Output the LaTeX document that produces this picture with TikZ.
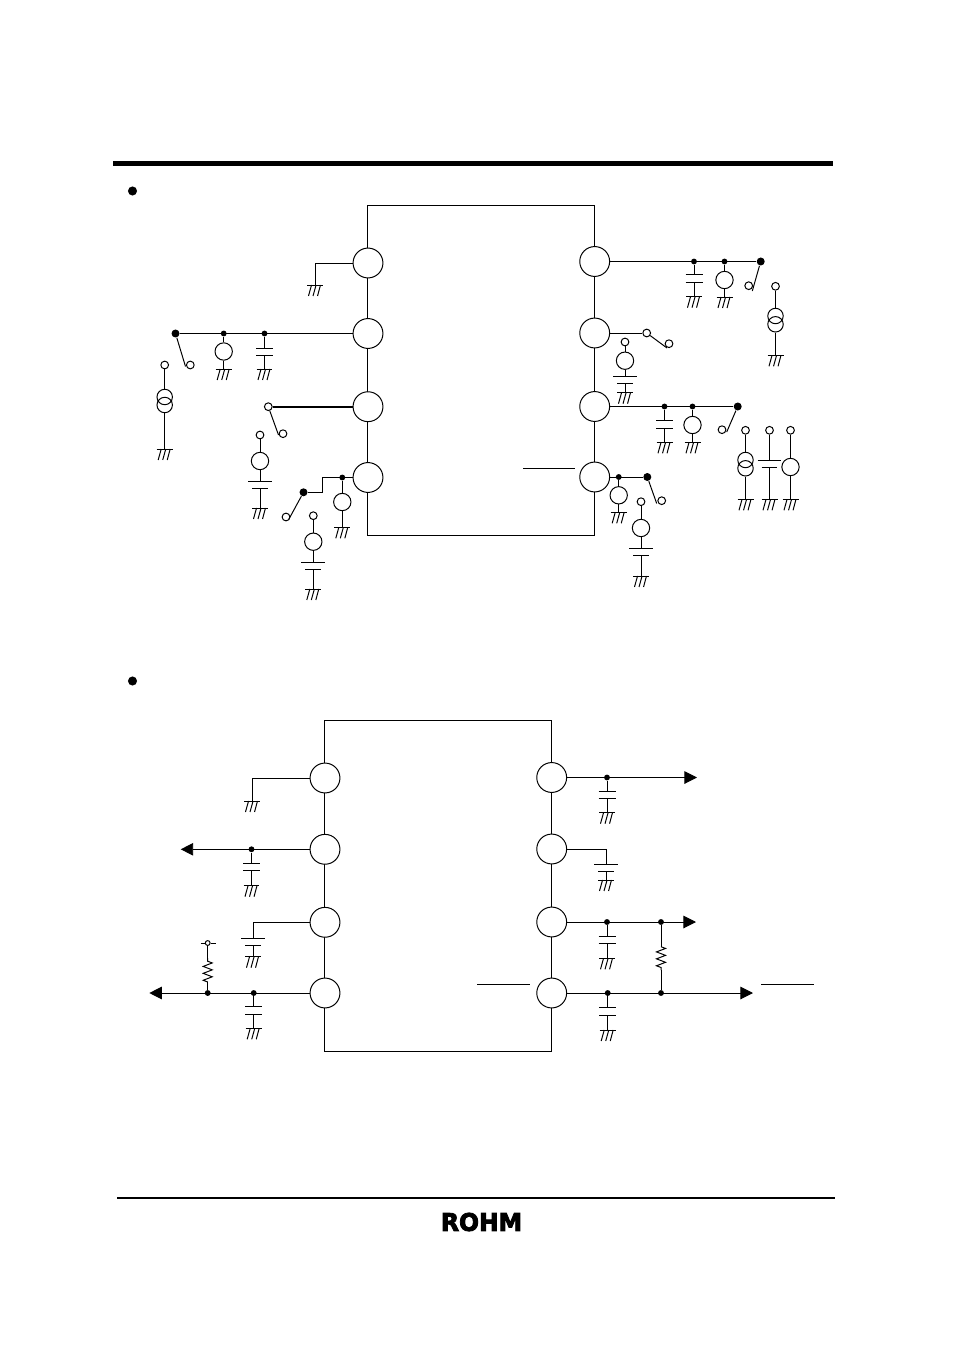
\documentclass[tikz,border=0pt]{standalone}
\usepackage{fontspec}
\usetikzlibrary{arrows.meta}
\usetikzlibrary{decorations.pathmorphing}
\newfontfamily\logofont[FakeBold=3.5]{DejaVu Sans Bold}
\tikzset{
	chip/.style={draw,inner sep=0,minimum width=170.25pt,minimum height=247.5pt},
	pad/.style={circle,draw,fill=white,inner sep=0,minimum size=22.4pt},
	term/.style={circle,draw,fill=white,inner sep=0,minimum size=5.8pt},
	src/.style={circle,draw,inner sep=0,minimum size=13pt},
	isrc/.style={circle,draw,inner sep=0,minimum size=11.6pt},
	jdot/.style={circle,fill=black,inner sep=0,minimum size=4.4pt},
	bigdot/.style={circle,fill=black,inner sep=0,minimum size=6pt},
	bullet/.style={circle,fill=black,inner sep=0,minimum size=6.8pt},
	gnd/.style={anchor=north,inner sep=0,minimum width=11.25pt,minimum height=7.5pt,
		append after command={
			(\tikzlastnode.north west) edge (\tikzlastnode.north east)
			([xshift=3.4pt]\tikzlastnode.north west) edge ([xshift=1.1pt]\tikzlastnode.south west)
			([xshift=6.8pt]\tikzlastnode.north west) edge ([xshift=4.5pt]\tikzlastnode.south west)
			([xshift=10.1pt]\tikzlastnode.north west) edge ([xshift=7.9pt]\tikzlastnode.south west)}},
	capv/.style={anchor=north,inner sep=0,minimum width=12pt,minimum height=4.9pt,
		append after command={
			(\tikzlastnode.north west) edge (\tikzlastnode.north east)
			(\tikzlastnode.south west) edge (\tikzlastnode.south east)}},
	batv/.style={anchor=north,inner sep=0,minimum width=17pt,minimum height=4.6pt,
		append after command={
			(\tikzlastnode.north west) edge (\tikzlastnode.north east)
			([xshift=3pt]\tikzlastnode.south west) edge ([xshift=-3pt]\tikzlastnode.south east)}},
	sigarrow/.style={-{Triangle[length=9.4pt,width=9.4pt]}},
	zig/.style={decorate,decoration={zigzag,amplitude=3.4pt,segment length=5.2pt}}
}
\begin{document}
\begin{tikzpicture}[x=0.75pt,y=-0.75pt,line width=0.74pt]
	\useasboundingbox (0,0) rectangle (954,1351);
	
	\draw [line width=3.75pt] (113,163.5) -- (833,163.5);
	\draw [line width=1.5pt] (117,1197.5) -- (835,1197.5);
	\node (logo) at (481.5,1222) {\resizebox{60.75pt}{13.5pt}{\logofont ROHM}};
	\node [bullet] (bulletA) at (132.5,191) {};
	\node [bullet] (bulletB) at (132.5,681) {};
	
	% upper circuit
	\node [chip] (chipA) at (481,370) {};
	\node [pad] (La) at (368,263) {};
	\node [pad] (Lb) at (368,333.5) {};
	\node [pad] (Lc) at (368,406.7) {};
	\node [pad] (Ld) at (368,477.5) {};
	\node [pad] (Ra) at (594.7,261.5) {};
	\node [pad] (Rb) at (594.7,333) {};
	\node [pad] (Rc) at (594.7,406.5) {};
	\node [pad] (Rd) at (594.7,477) {};
	
	\node [gnd] (gLa) at (315,285) {};
	\draw (La) -| (gLa);
	
	% left b
	\node [bigdot] (bLb) at (175.5,333.5) {};
	\node [jdot] (jLb) at (223.7,333.5) {};
	\node [jdot] (kLb) at (264.5,333.5) {};
	\node [src] (sLb) at (223.7,351.5) {};
	\node [gnd] (gLb) at (223.7,369) {};
	\node [capv] (cLb) at (264.5,348) {};
	\node [gnd] (hLb) at (264.5,369) {};
	\node [term] (tLb) at (190.3,365) {};
	\coordinate (swLb) at (185.5,366.5);
	\node [term] (uLb) at (164.7,365) {};
	\node [isrc] (iLb) at (164.7,397) {};
	\node [isrc] (oLb) at (164.7,405) {};
	\node [gnd] (vLb) at (164.7,449) {};
	\draw (Lb) -- (bLb);
	\draw (jLb) -- (sLb);
	\draw (sLb) -- (gLb);
	\draw (kLb) -- (cLb.north);
	\draw (cLb.south) -- (hLb);
	\draw (bLb) -- (swLb);
	\draw (uLb) -- (iLb);
	\draw (oLb) -- (vLb);
	
	% left c
	\node [term] (tLc) at (268.3,406.7) {};
	\node [term] (uLc) at (283,433.7) {};
	\coordinate (swLc) at (278.5,435);
	\node [term] (wLc) at (260,435) {};
	\node [src] (sLc) at (260,461) {};
	\node [batv] (cLc) at (260,481.7) {};
	\node [gnd] (gLc) at (260,508) {};
	\draw [line width=1.4pt] (Lc) -- (tLc);
	\draw (tLc) -- (swLc);
	\draw (wLc) -- (sLc);
	\draw (sLc) -- (cLc.north);
	\draw (cLc.south) -- (gLc);
	
	% left d
	\node [jdot] (jLd) at (342.3,477.5) {};
	\node [src] (sLd) at (342.3,502) {};
	\node [gnd] (gLd) at (342.3,527.3) {};
	\node [bigdot] (bLd) at (303.5,492.3) {};
	\coordinate (stepLd) at (322.7,477.5);
	\node [term] (tLd) at (286,517) {};
	\coordinate (swLd) at (288.7,519.5);
	\node [term] (uLd) at (313.3,515.7) {};
	\node [src] (vLd) at (313.3,541.7) {};
	\node [batv] (cLd) at (313.3,562.3) {};
	\node [gnd] (hLd) at (313.3,589) {};
	\draw (Ld) -- (stepLd) |- (bLd);
	\draw (jLd) -- (sLd);
	\draw (sLd) -- (gLd);
	\draw (bLd) -- (swLd);
	\draw (uLd) -- (vLd);
	\draw (vLd) -- (cLd.north);
	\draw (cLd.south) -- (hLd);
	
	% right a
	\node [jdot] (jRa) at (694,261.5) {};
	\node [jdot] (kRa) at (724.5,261.5) {};
	\node [bigdot] (bRa) at (760.7,261.5) {};
	\node [capv] (cRa) at (694,274.7) {};
	\node [gnd] (gRa) at (694,296.7) {};
	\node [src] (sRa) at (724.5,280) {};
	\node [gnd] (hRa) at (724.5,297) {};
	\node [term] (tRa) at (748.7,285.7) {};
	\coordinate (swRa) at (752.3,291);
	\node [term] (uRa) at (775.5,286.3) {};
	\node [isrc] (iRa) at (775.5,316) {};
	\node [isrc] (oRa) at (775.5,324.3) {};
	\node [gnd] (vRa) at (775.5,355.3) {};
	\draw (Ra) -- (bRa);
	\draw (jRa) -- (cRa.north);
	\draw (cRa.south) -- (gRa);
	\draw (kRa) -- (sRa);
	\draw (sRa) -- (hRa);
	\draw (bRa) -- (swRa);
	\draw (uRa) -- (iRa);
	\draw (oRa) -- (vRa);
	
	% right b
	\node [term] (tRb) at (646.7,333) {};
	\node [term] (uRb) at (669,343.7) {};
	\coordinate (swRb) at (667,348);
	\node [term] (wRb) at (625,342) {};
	\node [src] (sRb) at (625,360.7) {};
	\node [batv] (cRb) at (625,376.7) {};
	\node [gnd] (gRb) at (625,392.7) {};
	\draw (Rb) -- (tRb);
	\draw (tRb) -- (swRb);
	\draw (wRb) -- (sRb);
	\draw (sRb) -- (cRb.north);
	\draw (cRb.south) -- (gRb);
	
	% right c
	\node [jdot] (jRc) at (664.5,406.5) {};
	\node [jdot] (kRc) at (692.5,406.5) {};
	\node [bigdot] (bRc) at (737.7,406.5) {};
	\node [capv] (cRc) at (664.5,420.7) {};
	\node [gnd] (gRc) at (664.5,442.3) {};
	\node [src] (sRc) at (692.5,425) {};
	\node [gnd] (hRc) at (692.5,442.3) {};
	\node [term] (tRc) at (722,429.7) {};
	\coordinate (swRc) at (726.7,432);
	\draw (Rc) -- (bRc);
	\draw (jRc) -- (cRc.north);
	\draw (cRc.south) -- (gRc);
	\draw (kRc) -- (sRc);
	\draw (sRc) -- (hRc);
	\draw (bRc) -- (swRc);
	
	\node [term] (tAux) at (745.5,430.3) {};
	\node [term] (uAux) at (769.5,430.3) {};
	\node [term] (wAux) at (790.5,430.3) {};
	\node [isrc] (iAux) at (745.5,460) {};
	\node [isrc] (oAux) at (745.5,468.3) {};
	\node [gnd] (gAux) at (745.5,499.3) {};
	\node [batv] (cAux) at (769.5,460.3) {};
	\node [gnd] (hAux) at (769.5,499.3) {};
	\node [src] (sAux) at (790.5,467) {};
	\node [gnd] (vAux) at (790.5,499.3) {};
	\draw (tAux) -- (iAux);
	\draw (oAux) -- (gAux);
	\draw (uAux) -- (cAux.north);
	\draw (cAux.south) -- (hAux);
	\draw (wAux) -- (sAux);
	\draw (sAux) -- (vAux);
	
	% right d
	\node [jdot] (jRd) at (618.7,477) {};
	\node [bigdot] (bRd) at (647.3,477) {};
	\node [src] (sRd) at (618.7,495.3) {};
	\node [gnd] (gRd) at (618.7,512.3) {};
	\node [term] (tRd) at (661.7,500.7) {};
	\coordinate (swRd) at (656.7,503.5);
	\node [term] (uRd) at (641,501.7) {};
	\node [src] (vRd) at (641,528) {};
	\node [batv] (cRd) at (641,548) {};
	\node [gnd] (hRd) at (641,576) {};
	\coordinate (barAa) at (523.3,468.3);
	\coordinate (barAb) at (575,468.3);
	\draw (barAa) -- (barAb);
	\draw (Rd) -- (bRd);
	\draw (jRd) -- (sRd);
	\draw (sRd) -- (gRd);
	\draw (bRd) -- (swRd);
	\draw (uRd) -- (vRd);
	\draw (vRd) -- (cRd.north);
	\draw (cRd.south) -- (hRd);
	
	% lower circuit
	\node [chip,minimum height=248pt] (chipB) at (437.8,885.7) {};
	\node [pad] (Pa) at (325,778) {};
	\node [pad] (Pb) at (325,849.3) {};
	\node [pad] (Pc) at (325,922.3) {};
	\node [pad] (Pd) at (325,993) {};
	\node [pad] (Qa) at (551.7,777.5) {};
	\node [pad] (Qb) at (551.7,849) {};
	\node [pad] (Qc) at (551.7,922) {};
	\node [pad] (Qd) at (551.7,993) {};
	
	\node [gnd] (gPa) at (252,801) {};
	\draw (Pa) -| (gPa);
	
	\coordinate (outPb) at (180.7,849.3);
	\node [jdot] (jPb) at (251.5,849.3) {};
	\node [capv] (cPb) at (251.5,863.3) {};
	\node [gnd] (gPb) at (251.5,885.7) {};
	\draw [sigarrow] (Pb) -- (outPb);
	\draw (jPb) -- (cPb.north);
	\draw (cPb.south) -- (gPb);
	
	\node [batv] (cPc) at (253,938.7) {};
	\node [gnd] (gPc) at (253,956.7) {};
	\draw (Pc) -| (cPc.north);
	\draw (cPc.south) -- (gPc);
	
	\coordinate (outPd) at (149.3,993);
	\node [jdot] (jPd) at (207.7,993) {};
	\node [jdot] (kPd) at (253.7,993) {};
	\node [capv] (cPd) at (253.7,1006.7) {};
	\node [gnd] (gPd) at (253.7,1028.3) {};
	\node [circle,draw,fill=white,inner sep=0,minimum size=3.6pt] (tPd) at (207.7,943) {};
	\coordinate (barPa) at (200.7,943);
	\coordinate (barPb) at (216,943);
	\coordinate (zPa) at (207.7,982);
	\coordinate (zPb) at (207.7,958);
	\draw [sigarrow] (Pd) -- (outPd);
	\draw (kPd) -- (cPd.north);
	\draw (cPd.south) -- (gPd);
	\draw (barPa) -- (tPd);
	\draw (tPd) -- (barPb);
	\draw (jPd) -- (zPa);
	\draw [zig] (zPa) -- (zPb);
	\draw (zPb) -- (tPd);
	
	\coordinate (outQa) at (697,777.5);
	\node [jdot] (jQa) at (607,777.5) {};
	\node [capv] (cQa) at (607,791) {};
	\node [gnd] (gQa) at (607,812.7) {};
	\draw [sigarrow] (Qa) -- (outQa);
	\draw (jQa) -- (cQa.north);
	\draw (cQa.south) -- (gQa);
	
	\node [batv] (cQb) at (606,864.3) {};
	\node [gnd] (gQb) at (606,880) {};
	\draw (Qb) -| (cQb.north);
	\draw (cQb.south) -- (gQb);
	
	\coordinate (outQc) at (696,922);
	\node [jdot] (jQc) at (607,922) {};
	\node [jdot] (kQc) at (661,922) {};
	\node [capv] (cQc) at (607,936) {};
	\node [gnd] (gQc) at (607,958.3) {};
	\coordinate (zQa) at (661,946.7);
	\coordinate (zQb) at (661,970);
	\draw [sigarrow] (Qc) -- (outQc);
	\draw (jQc) -- (cQc.north);
	\draw (cQc.south) -- (gQc);
	\draw (kQc) -- (zQa);
	\draw [zig] (zQa) -- (zQb);
	
	\coordinate (outQd) at (753,993);
	\node [jdot] (jQd) at (607.7,993) {};
	\node [jdot] (kQd) at (661,993) {};
	\node [capv] (cQd) at (607.7,1007.7) {};
	\node [gnd] (gQd) at (607.7,1030) {};
	\coordinate (barBa) at (477.3,984.3);
	\coordinate (barBb) at (530,984.3);
	\coordinate (barCa) at (761,984.3);
	\coordinate (barCb) at (814,984.3);
	\draw [sigarrow] (Qd) -- (outQd);
	\draw (jQd) -- (cQd.north);
	\draw (cQd.south) -- (gQd);
	\draw (zQb) -- (kQd);
	\draw (barBa) -- (barBb);
	\draw (barCa) -- (barCb);
\end{tikzpicture}
\end{document}
